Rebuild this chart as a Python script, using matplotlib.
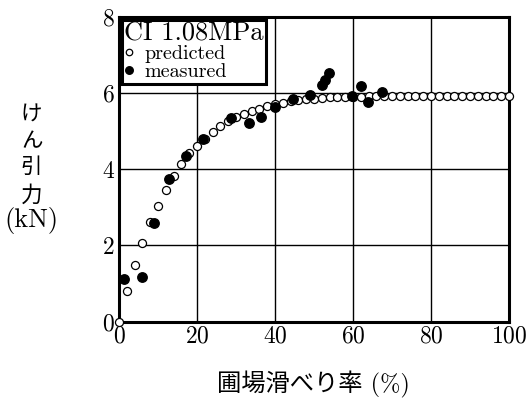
import matplotlib
matplotlib.use('Agg')
import matplotlib.pyplot as plt
import numpy as np

# predicted curve (open circles), every 2 % slip
pred_slip = [0, 2, 4, 6, 8, 10, 12, 14, 16, 18, 20, 22, 24, 26, 28, 30, 32, 34, 36, 38,
             40, 42, 44, 46, 48, 50, 52, 54, 56, 58, 60, 62, 64, 66, 68, 70, 72, 74, 76, 78,
             80, 82, 84, 86, 88, 90, 92, 94, 96, 98, 100]
pred_pull = [0.00, 0.80, 1.49, 2.07, 2.60, 3.04, 3.46, 3.82, 4.13, 4.42, 4.60, 4.78, 4.97, 5.13,
             5.27, 5.37, 5.44, 5.51, 5.58, 5.65, 5.70, 5.74, 5.79, 5.81, 5.83, 5.84, 5.87, 5.88,
             5.89, 5.90, 5.90, 5.90, 5.91, 5.91, 5.91, 5.91, 5.91, 5.91, 5.91, 5.91, 5.91, 5.91,
             5.91, 5.91, 5.91, 5.91, 5.91, 5.91, 5.91, 5.91, 5.91]

# measured (filled circles)
meas_slip = [1.3, 5.9, 8.9, 12.9, 17.2, 21.6, 28.7, 33.3, 36.3, 39.9, 44.7, 49.1,
             52.0, 52.8, 53.8, 59.8, 62.1, 63.9, 67.4]
meas_pull = [1.12, 1.18, 2.58, 3.73, 4.35, 4.79, 5.34, 5.20, 5.36, 5.62, 5.83, 5.94,
             6.20, 6.33, 6.51, 5.92, 6.18, 5.76, 6.03]

xticks = [0, 20, 40, 60, 80, 100]
yticks = [0, 2, 4, 6, 8]

plt.rcParams['font.family'] = ['cmr10', 'Noto Sans CJK JP']
plt.rcParams['axes.formatter.use_mathtext'] = True

fig = plt.figure(figsize=(5.28, 4.03), dpi=100)
ax = fig.add_axes([0.2254, 0.202, 0.7386, 0.757])

ax.plot(pred_slip, pred_pull, 'o', ms=5.8, mfc='white', mec='black', mew=0.9,
        label='predicted', zorder=3, clip_on=False)
ax.plot(meas_slip, meas_pull, 'o', ms=6.8, color='black', label='measured', zorder=4)

ax.set_xlim(0, 100)
ax.set_ylim(0, 8)
ax.set_xticks(xticks)
ax.set_yticks(yticks)
ax.grid(True, color='black', lw=1.0)
ax.tick_params(length=0, labelsize=17, pad=3)
for s in ax.spines.values():
    s.set_linewidth(2.2)

leg = ax.legend(title='CI 1.08MPa', loc='upper left', fancybox=False, framealpha=1,
                edgecolor='black', fontsize=14.5, title_fontsize=19, alignment='left',
                handlelength=0.5, handletextpad=0.5, borderaxespad=0.15,
                borderpad=0.1, labelspacing=0.0, markerscale=0.8)
leg.get_frame().set_linewidth(2.2)
leg.set_zorder(10)

fig.text(0.06, 0.615, 'け\nん\n引\n力', ha='center', va='center',
         fontsize=15.5, linespacing=1.45)
fig.text(0.06, 0.452, '(kN)', ha='center', va='center', fontsize=19)
fig.text(0.594, 0.045, '圃場滑べり率 (%)', ha='center', va='center', fontsize=17.5)

fig.savefig('out.png', dpi=100)
